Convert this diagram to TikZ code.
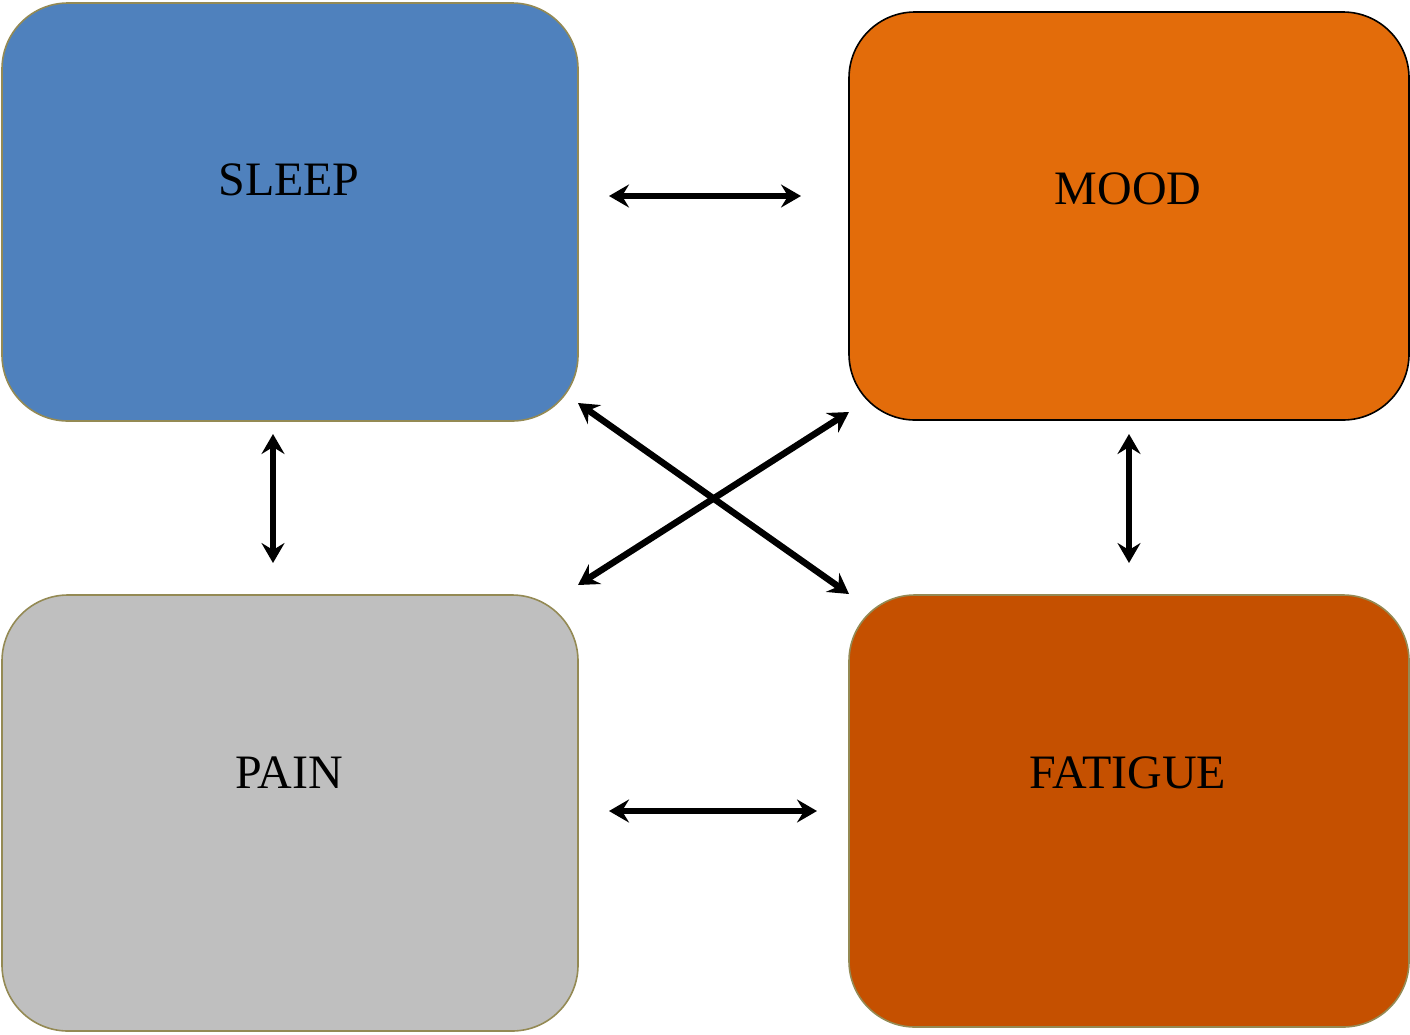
\documentclass[tikz,border=0pt]{standalone}
\usepackage{fontspec}
\setmainfont{Liberation Serif}
\usetikzlibrary{arrows.meta}
\definecolor{sleepc}{HTML}{4F81BD}
\definecolor{moodc}{HTML}{E36C0A}
\definecolor{painc}{HTML}{BFBFBF}
\definecolor{fatc}{HTML}{C55000}
\definecolor{olivec}{HTML}{948A54}
\begin{document}
\begin{tikzpicture}[x=1pt,y=-1pt,
  box/.style={draw=olivec, line width=1.6pt, rounded corners=66pt, inner sep=0pt, outer sep=0pt},
  lbl/.style={anchor=base, font=\fontsize{48}{52}\selectfont, inner sep=0pt},
  biarrow/.style={line width=6.5pt, {Stealth[length=20pt,width=23pt,inset=7pt]}-{Stealth[length=20pt,width=23pt,inset=7pt]}}
]
\useasboundingbox (0,0) rectangle (1410,1034);
\node[box, fill=sleepc, minimum width=576pt, minimum height=418pt] (sleep) at (290,212) {};
\node[box, fill=moodc, draw=black, minimum width=560pt, minimum height=408pt] (mood) at (1129,216) {};
\node[box, fill=painc, minimum width=576pt, minimum height=436pt] (pain) at (290,813) {};
\node[box, fill=fatc, minimum width=560pt, minimum height=432pt] (fatigue) at (1129,811) {};
\node[lbl] (tsleep) at (289,195) {SLEEP};
\node[lbl] (tmood) at (1128,204) {MOOD};
\node[lbl] (tpain) at (289,788) {PAIN};
\node[lbl] (tfatigue) at (1128,788) {FATIGUE};
\coordinate (smA) at (609,196); \coordinate (smB) at (801,196);
\coordinate (spA) at (273,434); \coordinate (spB) at (273,563);
\coordinate (mfA) at (1129,434); \coordinate (mfB) at (1129,563);
\coordinate (pfA) at (609,811); \coordinate (pfB) at (817,811);
\coordinate (sfA) at (578,403); \coordinate (sfB) at (849,594);
\coordinate (mpA) at (849,412); \coordinate (mpB) at (578,585);
\draw[biarrow] (smA) -- (smB);
\draw[biarrow] (spA) -- (spB);
\draw[biarrow] (mfA) -- (mfB);
\draw[biarrow] (pfA) -- (pfB);
\draw[biarrow] (sfA) -- (sfB);
\draw[biarrow] (mpA) -- (mpB);
\end{tikzpicture}
\end{document}
